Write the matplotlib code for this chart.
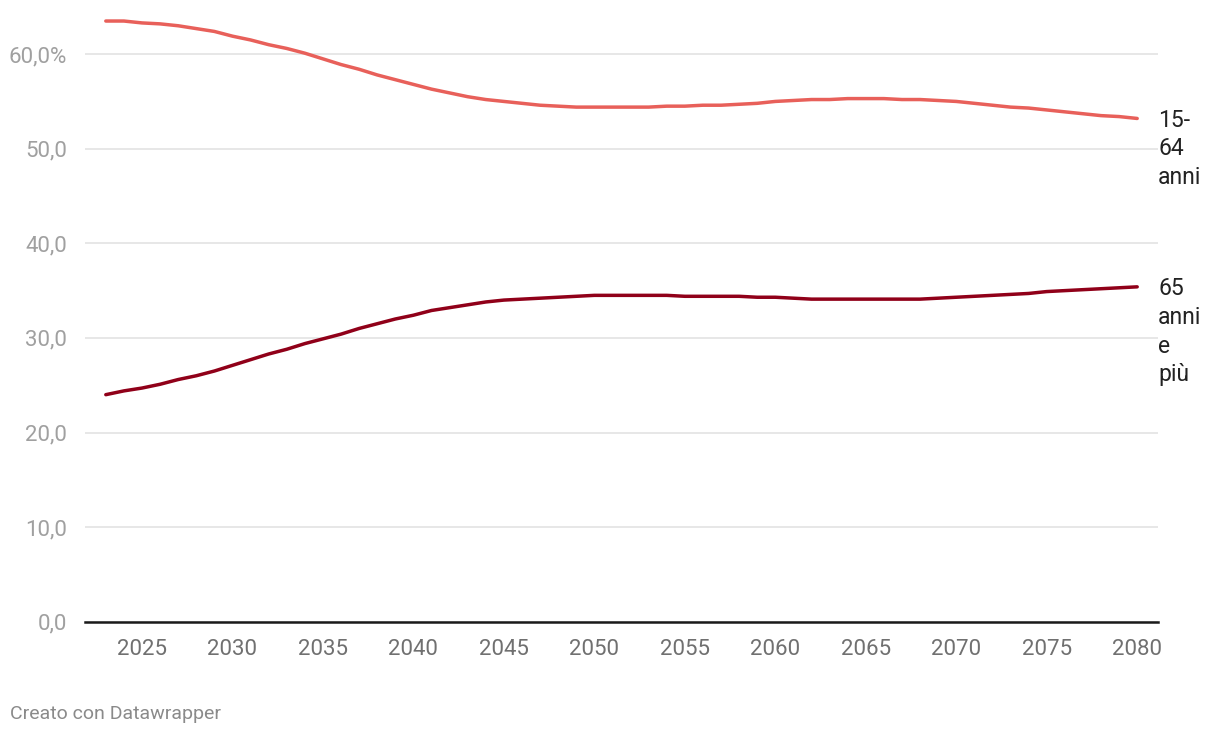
import matplotlib
matplotlib.use("Agg")
import matplotlib.pyplot as plt
from matplotlib.ticker import FuncFormatter

plt.rcParams['font.family'] = ['Roboto', 'DejaVu Sans']

years = list(range(2023, 2081))

age_15_64 = [63.5, 63.5, 63.3, 63.2, 63.0, 62.7, 62.4, 61.9, 61.5, 61.0,
             60.6, 60.1, 59.5, 58.9, 58.4, 57.8, 57.3, 56.8, 56.3, 55.9,
             55.5, 55.2, 55.0, 54.8, 54.6, 54.5, 54.4, 54.4, 54.4, 54.4,
             54.4, 54.5, 54.5, 54.6, 54.6, 54.7, 54.8, 55.0, 55.1, 55.2,
             55.2, 55.3, 55.3, 55.3, 55.2, 55.2, 55.1, 55.0, 54.8, 54.6,
             54.4, 54.3, 54.1, 53.9, 53.7, 53.5, 53.4, 53.2]

age_65_plus = [24.0, 24.4, 24.7, 25.1, 25.6, 26.0, 26.5, 27.1, 27.7, 28.3,
               28.8, 29.4, 29.9, 30.4, 31.0, 31.5, 32.0, 32.4, 32.9, 33.2,
               33.5, 33.8, 34.0, 34.1, 34.2, 34.3, 34.4, 34.5, 34.5, 34.5,
               34.5, 34.5, 34.4, 34.4, 34.4, 34.4, 34.3, 34.3, 34.2, 34.1,
               34.1, 34.1, 34.1, 34.1, 34.1, 34.1, 34.2, 34.3, 34.4, 34.5,
               34.6, 34.7, 34.9, 35.0, 35.1, 35.2, 35.3, 35.4]

series = [
    (age_15_64, '15-\n64\nanni', '#e8605a'),
    (age_65_plus, '65\nanni\ne\npiù', '#900019'),
]

x_ticks = list(range(2025, 2081, 5))
y_ticks = [0, 10, 20, 30, 40, 50, 60]

fig = plt.figure(figsize=(12.2, 7.38), dpi=100)
ax = fig.add_axes([85 / 1220, 1 - 621.7 / 738, (1158 - 85) / 1220, (621.7 - 16.3) / 738])

for values, label, color in series:
    ax.plot(years, values, color=color, linewidth=2.5, solid_capstyle='round',
            clip_on=False, zorder=3)
    ax.annotate(label, xy=(1.0, values[-1]), xycoords=('axes fraction', 'data'),
                xytext=(0, 7), textcoords='offset points',
                ha='left', va='top', fontsize=16.5, color='#222222',
                linespacing=1.32, annotation_clip=False)

ax.set_xlim(2021.85, 2081.15)
ax.set_ylim(0, 64)

ax.set_yticks(y_ticks)
ax.yaxis.set_major_formatter(FuncFormatter(
    lambda v, p: f"{v:.1f}".replace('.', ',') + ('%' if v == 60 else '')))
ax.set_xticks(x_ticks)

ax.tick_params(axis='y', length=0, pad=13, labelsize=16, labelcolor='#a0a0a0')
ax.tick_params(axis='x', length=0, pad=12.5, labelsize=16, labelcolor='#707070')

ax.grid(axis='y', color='#e3e3e3', linewidth=1.2, zorder=0)
ax.grid(axis='x', visible=False)
for side in ['top', 'right', 'left']:
    ax.spines[side].set_visible(False)
ax.spines['bottom'].set_color('#1a1a1a')
ax.spines['bottom'].set_linewidth(1.8)
ax.spines['bottom'].set_zorder(4)

fig.text(10 / 1220, 1 - 714 / 738, 'Creato con Datawrapper', ha='left', va='center',
         fontsize=14, color='#8a8a8a')

fig.savefig('out.png', dpi=100)
plt.close(fig)
